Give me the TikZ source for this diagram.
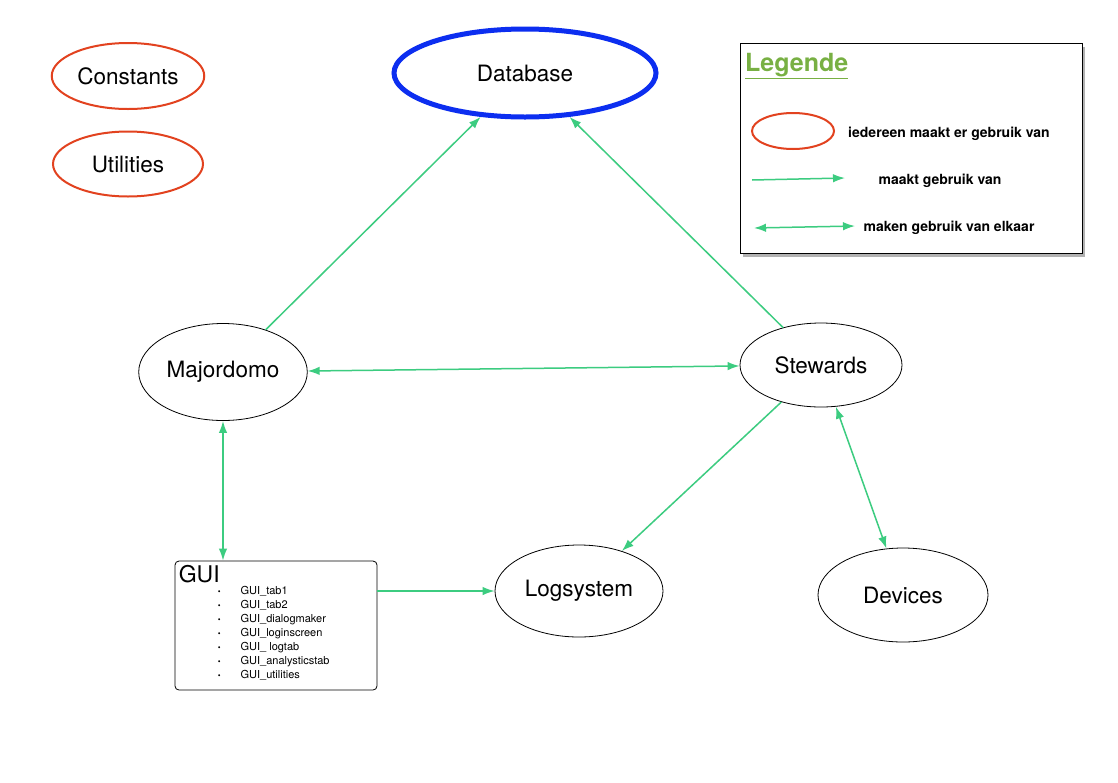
\documentclass[tikz,border=0pt]{standalone}
\usepackage{fontspec}
\setmainfont{TeX Gyre Heros}
\usetikzlibrary{arrows.meta}
\usetikzlibrary{shapes}
\usetikzlibrary{positioning}
\usetikzlibrary{shadows}

\definecolor{keyred}{RGB}{226,66,31}
\definecolor{dbblue}{RGB}{12,46,240}
\definecolor{linkgreen}{RGB}{60,204,128}
\definecolor{titlegreen}{RGB}{120,176,67}

\tikzset{
  module/.style={ellipse,draw=black,line width=0.8pt,font=\fontsize{22.5}{24}\selectfont},
  common/.style={ellipse,draw=keyred,line width=2pt,font=\fontsize{22.5}{24}\selectfont},
  uses/.style={draw=linkgreen,line width=1.5pt,-{Latex[length=12pt,width=8.5pt]}},
  mutual/.style={draw=linkgreen,line width=1.5pt,{Latex[length=12pt,width=8.5pt]}-{Latex[length=12pt,width=8.5pt]}},
  keytext/.style={font=\fontsize{14}{15}\selectfont\bfseries}
}

\begin{document}
\begin{tikzpicture}[x=1pt,y=-1pt]
  \useasboundingbox (0,0) rectangle (1118,782);
  \fill[white] (0,0) rectangle (1118,782);

  % shared modules
  \node[common,minimum width=150pt,minimum height=66pt] (constants) at (128,76) {Constants};
  \node[common,minimum width=150pt,minimum height=65pt] (utilities) at (128,164) {Utilities};

  \node[ellipse,draw=dbblue,line width=5pt,minimum width=262pt,minimum height=88pt,
        font=\fontsize{22.5}{24}\selectfont] (database) at (525,73) {Database};

  \node[module,minimum width=160pt,minimum height=97pt] (majordomo) at (223,372) {Majordomo};
  \node[module,minimum width=162pt,minimum height=84pt] (stewards) at (821,365) {Stewards};
  \node[module,minimum width=168pt,minimum height=92pt] (logsystem) at (579,591) {Logsystem};
  \node[module,minimum width=170pt,minimum height=94pt] (devices) at (903,595) {Devices};

  % GUI box
  \node[draw=black,line width=0.8pt,rounded corners=4pt,minimum width=202pt,
        minimum height=129pt] (gui) at (276,625.5) {};
  \node[anchor=north west,inner sep=0pt,font=\fontsize{23}{24}\selectfont]
    (guititle) at ([xshift=4pt,yshift=-5pt]gui.north west) {GUI};
  \node[anchor=north west,inner sep=0pt,font=\fontsize{11}{14}\selectfont,align=left]
    (guilist) at ([xshift=43pt,yshift=-24pt]gui.north west) {%
    \begin{tabular}{@{}l@{\hspace{20pt}}l@{}}
      {\footnotesize\textbullet} & GUI\_tab1\\
      {\footnotesize\textbullet} & GUI\_tab2\\
      {\footnotesize\textbullet} & GUI\_dialogmaker\\
      {\footnotesize\textbullet} & GUI\_loginscreen\\
      {\footnotesize\textbullet} & GUI\_ logtab\\
      {\footnotesize\textbullet} & GUI\_analysticstab\\
      {\footnotesize\textbullet} & GUI\_utilities
    \end{tabular}};

  % connections
  \draw[uses] (majordomo) -- (database);
  \draw[uses] (stewards) -- (database);
  \draw[mutual] (majordomo) -- (stewards);
  \draw[mutual] (majordomo.south) -- (majordomo.south |- gui.north);
  \draw[uses] (stewards) -- (logsystem);
  \draw[mutual] (stewards) -- (devices);
  \draw[uses] (gui.east |- logsystem) -- (logsystem);

  % legend
  \node[draw=black,line width=0.8pt,fill=white,minimum width=342pt,minimum height=210pt,
        drop shadow={shadow xshift=3pt,shadow yshift=-3pt,fill=black!60}] (legend) at (911,148.5) {};
  \node[anchor=west,inner sep=0pt,text=titlegreen,font=\fontsize{25}{26}\selectfont\bfseries]
    (legendtitle) at (745,66) {\underline{Legende}};
  \node[ellipse,draw=keyred,line width=2pt,minimum width=82pt,minimum height=36pt] (keyoval) at (793,131) {};
  \node[keytext] (keyovaltext) at (949,134) {iedereen maakt er gebruik van};
  \coordinate (keyusesa) at (752,180);
  \coordinate (keyusesb) at (845,178);
  \draw[uses] (keyusesa) -- (keyusesb);
  \node[keytext] (keyusestext) at (940,181) {maakt gebruik van};
  \coordinate (keymutuala) at (754,228);
  \coordinate (keymutualb) at (855,226);
  \draw[mutual] (keymutuala) -- (keymutualb);
  \node[keytext] (keymutualtext) at (949,228) {maken gebruik van elkaar};
\end{tikzpicture}
\end{document}
